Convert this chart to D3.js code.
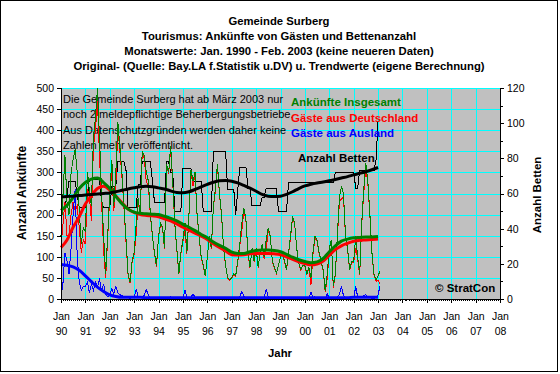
<!DOCTYPE html>
<html>
<head>
<meta charset="utf-8">
<script src="https://cdn.jsdelivr.net/npm/d3@7"></script>
<style>
  body { margin: 0; background: #fff; }
  text { font-family: Arial, "Liberation Sans", sans-serif; }
</style>
</head>
<body>
<svg id="chart" width="560" height="374"></svg>
<script>
// monthly values, Jan 1990 .. Feb 2003
var total = [
  150, 250, 340, 230, 200, 300, 330, 355, 300, 210, 130, 170,   // 1990
  160, 300, 260, 220, 380, 430, 500, 380, 250, 150,  60, 150,   // 1991
  250, 330, 220, 300, 420, 360, 300, 220, 140,  60,  40,  90,   // 1992
  110, 180, 240, 200, 350, 340, 300, 280, 200, 150, 110,  78,   // 1993
  150, 180, 170, 120, 320, 300, 362, 280, 180, 120,  60, 110,   // 1994
  140, 180, 110, 200, 306, 280, 300, 200, 150, 100,  80,  55,   // 1995
  100, 150, 120, 220, 260, 320, 250, 200, 120,  80,  50,  46,   // 1996
   50,  60,  55,  90, 130, 180, 215, 190, 110,  75, 120,  90,   // 1997
  120,  75, 110, 130, 100, 140, 168, 150,  90,  75,  62,  80,   // 1998
  100, 110,  90,  70, 110, 150, 196, 180, 120,  85,  70,  80,   // 1999
   80,  60,  75,  50, 110, 150, 140, 110,  90,  70,  18,  60,   // 2000
  120, 140,  30,  60, 150, 240, 267, 250, 150, 120,  70,  90,   // 2001
   90, 150, 100,  60, 180, 260, 322, 280, 200, 110,  60,  45,   // 2002
   55,  67                                                      // 2003
];
var german = [
  125, 180, 230, 150, 150, 200, 230, 210, 220, 170, 110, 140,
  130, 260, 245, 185, 360, 400, 470, 335, 230, 115,  50, 145,
  242, 305, 208, 270, 405, 350, 292, 215, 135,  57,  38,  87,
  107, 156, 235, 197, 345, 332, 278, 270, 197, 148, 108,  76,
  148, 178, 168, 118, 317, 296, 357, 276, 177, 118,  59, 108,
  137, 160, 107, 197, 301, 268, 296, 197, 148,  98,  79,  54,
   99, 148, 119, 218, 257, 316, 247, 198, 119,  79,  49,  45,
   49,  59,  54,  88, 125, 162, 209, 187, 109,  74, 119,  89,
  119,  74, 109, 128,  96, 116, 162, 148,  89,  74,  61,  79,
   99, 109,  89,  69, 108, 147, 193, 178, 119,  84,  69,  79,
   78,  58,  73,  34, 106, 145, 137, 107,  88,  68,  17,  48,
  118, 138,  27,  57, 145, 230, 237, 242, 147, 118,  68,  87,
   87, 120,  95,  57, 175, 252, 312, 274, 197, 108,  58,  42,
   45,  35
];
var foreign = [
    5,  40, 110,  90,  60, 120, 200, 260, 100,  40,  20,  30,
   30,  40,  15,  35,  20,  40,  30,  45,  20,  35,  10,   5,
    8,  25,  12,  30,  15,  10,   8,   5,   5,   3,   2,   3,
    3,  24,   5,   3,   5,   8,  22,  10,   3,   2,   2,   2,
    2,   2,   2,   2,   3,   4,   5,   4,   3,   2,   1,   2,
    3,  20,   3,   3,   5,  12,   4,   3,   2,   2,   1,   1,
    1,   2,   1,   2,   3,   4,   3,   2,   1,   1,   1,   1,
    1,   1,   1,   2,   5,  18,   6,   3,   1,   1,   1,   1,
    1,   1,   1,   2,   4,  24,   6,   2,   1,   1,   1,   1,
    1,   1,   1,   1,   2,   3,   3,   2,   1,   1,   1,   1,
    2,   2,   2,  16,   4,   5,   3,   3,   2,   2,   1,  12,
    2,   2,   3,   3,   5,  10,  30,   8,   3,   2,   2,   3,
    3,  30,   5,   3,   5,   8,  10,   6,   3,   2,   2,   3,
   10,  32
];
// beds, Jan 1990 .. Jan 2003
var beds = [
  52, 52, 52, 59, 67, 67, 67, 67, 59, 52, 52, 52,
  52, 58, 68, 68, 68, 68, 68, 68, 55, 52, 52, 52,
  52, 64, 64, 64, 78, 78, 78, 78, 73, 52, 52, 52,
  52, 52, 65, 65, 78, 78, 78, 78, 78, 67, 55, 55,
  55, 55, 55, 55, 78, 78, 72, 72, 50, 50, 50, 50,
  74, 74, 74, 74, 74, 67, 67, 67, 67, 67, 50, 50,
  50, 50, 50, 84, 84, 84, 84, 84, 84, 84, 62, 62,
  62, 62, 48, 62, 75, 75, 75, 75, 63, 63, 53, 53,
  53, 53, 53, 58, 58, 63, 63, 63, 63, 63, 63, 50,
  50, 50, 50, 50, 66, 66, 66, 66, 66, 66, 66, 66,
  66, 66, 66, 66, 66, 66, 66, 66, 66, 66, 66, 66,
  66, 66, 66, 72, 72, 72, 72, 72, 72, 72, 72, 72,
  72, 63, 63, 73, 73, 73, 73, 73, 73, 73, 73, 79,
  101
];

// trend values, every third month from Jan 1990
var totalTrend = [210, 222, 240, 262, 276, 284, 287, 276, 262, 243, 226, 213, 206, 203, 202, 201,
  200, 196, 191, 185, 177, 170, 162, 153, 145, 135, 127, 120, 111, 108, 108, 112, 115, 116, 116,
  115, 112, 106, 99, 93, 89, 86, 88, 96, 112, 126, 137, 142, 145, 146, 147, 147, 148];
var germanTrend = [122, 140, 170, 195, 225, 245, 262, 267, 258, 244, 228, 213, 205, 200, 198, 197,
  195, 190, 185, 178, 170, 163, 156, 149, 141, 131, 122, 114, 105, 104, 105, 107, 108, 108, 108,
  107, 105, 100, 94, 88, 84, 81, 83, 90, 104, 117, 126, 132, 137, 139, 140, 141, 142];
var foreignTrend = [82, 80, 76, 68, 55, 41, 28, 18, 10, 6, 4, 4, 4, 4, 3, 3, 3, 3, 3, 3, 3, 3, 3,
  3, 3, 3, 3, 3, 3, 3, 3, 3, 3, 3, 3, 3, 3, 3, 3, 3, 3, 3, 3, 3, 3, 3, 3, 3, 4, 4, 4, 4, 4];
var bedsTrend = [58.1, 58.3, 58.5, 58.8, 59.1, 59.4, 59.7, 60.0, 60.3, 61.0, 61.8, 62.6, 63.3,
  63.9, 64.1, 63.8, 63.2, 62.6, 61.5, 60.6, 60.4, 61.0, 62.3, 63.8, 65.2, 66.4, 67.2, 67.4, 67.0,
  66.0, 64.6, 63.0, 61.3, 59.5, 58.5, 58.3, 58.5, 59.5, 61.0, 62.8, 64.3, 65.3, 66.0, 66.5, 67.2,
  68.0, 68.8, 69.6, 70.6, 71.5, 72.4, 73.5, 74.8];

var yearLabels = ["90", "91", "92", "93", "94", "95", "96", "97", "98", "99",
  "00", "01", "02", "03", "04", "05", "06", "07", "08"];
var titleLines = ["Gemeinde Surberg",
  "Tourismus: Ankünfte von Gästen und Bettenanzahl",
  "Monatswerte: Jan. 1990 - Feb. 2003 (keine neueren Daten)",
  "Original- (Quelle: Bay.LA f.Statistik u.DV) u. Trendwerte (eigene Berechnung)"];
var noteLines = ["Die Gemeinde Surberg hat ab März 2003 nur",
  "noch 2 meldepflichtige Beherbergungsbetriebe.",
  "Aus Datenschutzgründen werden daher keine",
  "Zahlen mehr veröffentlicht."];
var legendItems = [
  {name: "Ankünfte Insgesamt", color: "#008000"},
  {name: "Gäste aus Deutschland", color: "#ff0000"},
  {name: "Gäste aus Ausland", color: "#0000ff"}
];

var plotLeft = 61, plotRight = 500, plotTop = 88, plotBottom = 299;

var svg = d3.select("#chart");

svg.append("rect")
    .attr("x", 0.5).attr("y", 0.5)
    .attr("width", 557).attr("height", 371)
    .attr("fill", "#fff")
    .attr("stroke", "#000");

var x = d3.scaleTime()
    .domain([new Date(1990, 0, 1), new Date(2008, 0, 1)])
    .range([plotLeft, plotRight]);
var y = d3.scaleLinear().domain([0, 500]).range([plotBottom, plotTop]);
var yBeds = d3.scaleLinear().domain([0, 120]).range([plotBottom, plotTop]);

function month(i) { return new Date(1990, i, 1); }

// plot area + grid
svg.append("rect")
    .attr("x", plotLeft).attr("y", plotTop)
    .attr("width", plotRight - plotLeft).attr("height", plotBottom - plotTop)
    .attr("fill", "#c0c0c0");

var years = d3.range(1990, 2009).map(function(yr) { return new Date(yr, 0, 1); });

svg.append("g").selectAll("line")
    .data(y.ticks(10))
    .join("line")
    .attr("x1", plotLeft).attr("x2", plotRight)
    .attr("y1", function(d) { return Math.round(y(d)) + 0.5; })
    .attr("y2", function(d) { return Math.round(y(d)) + 0.5; })
    .attr("stroke", "#00ffff")
    .attr("shape-rendering", "crispEdges");

svg.append("g").selectAll("line")
    .data(years)
    .join("line")
    .attr("x1", function(d) { return Math.round(x(d)) + 0.5; })
    .attr("x2", function(d) { return Math.round(x(d)) + 0.5; })
    .attr("y1", plotTop).attr("y2", plotBottom)
    .attr("stroke", "#00ffff")
    .attr("shape-rendering", "crispEdges");

// note text inside the plot
svg.append("g").selectAll("text")
    .data(noteLines)
    .join("text")
    .attr("x", 63)
    .attr("y", function(d, i) { return 102.5 + i * 15.5; })
    .attr("font-size", "11px")
    .attr("fill", "#000")
    .text(function(d) { return d; });

// data lines
var monthLine = d3.line()
    .x(function(d, i) { return x(month(i)); })
    .y(function(d) { return y(d); });
var bedsLine = d3.line()
    .x(function(d, i) { return x(month(i)); })
    .y(function(d) { return yBeds(d); });
var trendLine = d3.line()
    .curve(d3.curveMonotoneX)
    .x(function(d, i) { return x(month(i * 3)); })
    .y(function(d) { return y(d); });
var bedsTrendLine = d3.line()
    .curve(d3.curveMonotoneX)
    .x(function(d, i) { return x(month(i * 3)); })
    .y(function(d) { return yBeds(d); });

function thin(data, gen, color) {
    svg.append("path").datum(data).attr("d", gen)
        .attr("fill", "none").attr("stroke", color).attr("stroke-width", 1)
        .attr("shape-rendering", "crispEdges");
}
function thick(data, gen, color) {
    svg.append("path").datum(data).attr("d", gen)
        .attr("fill", "none").attr("stroke", color).attr("stroke-width", 3);
}

thin(beds, bedsLine, "#000");
thin(german, monthLine, "#ff0000");
thin(total, monthLine, "#008000");
thin(foreign, monthLine, "#0000ff");

thick(germanTrend, trendLine, "#ff0000");
thick(totalTrend, trendLine, "#008000");
thick(foreignTrend, trendLine, "#0000ff");
thick(bedsTrend, bedsTrendLine, "#000");

// legend labels
svg.append("g").selectAll("text")
    .data(legendItems)
    .join("text")
    .attr("x", 291)
    .attr("y", function(d, i) { return 106 + i * 15.5; })
    .attr("font-size", "11.5px")
    .attr("font-weight", "bold")
    .attr("fill", function(d) { return d.color; })
    .text(function(d) { return d.name; });

svg.append("text")
    .attr("x", 298).attr("y", 161.5)
    .attr("font-size", "11.5px").attr("font-weight", "bold")
    .text("Anzahl Betten");

svg.append("text")
    .attr("x", 435).attr("y", 291.5)
    .attr("font-size", "11.5px").attr("font-weight", "bold")
    .text("© StratCon");

// axes
svg.append("g")
    .attr("transform", "translate(" + plotLeft + ",0)")
    .call(d3.axisLeft(y).tickValues(d3.range(0, 501, 50)).tickSize(4).tickPadding(3));

svg.append("g")
    .attr("transform", "translate(" + plotRight + ",0)")
    .call(d3.axisRight(yBeds).tickValues(d3.range(0, 121, 20)).tickSize(4).tickPadding(3));
svg.append("g")
    .attr("transform", "translate(" + plotRight + ",0)")
    .call(d3.axisRight(yBeds).tickValues(d3.range(10, 120, 20)).tickSize(3).tickFormat(""))
    .select(".domain").remove();

svg.append("g")
    .attr("transform", "translate(0," + plotBottom + ")")
    .call(d3.axisBottom(x).ticks(d3.timeMonth.every(1)).tickSize(2).tickFormat(""))
    .select(".domain").remove();

var axisBottom = svg.append("g")
    .attr("transform", "translate(0," + plotBottom + ")")
    .call(d3.axisBottom(x).tickValues(years).tickSize(4).tickFormat(""));

axisBottom.selectAll(".tick").append("text")
    .attr("fill", "#000").attr("y", 21).text("Jan");
axisBottom.selectAll(".tick").append("text")
    .attr("fill", "#000").attr("y", 36)
    .text(function(d, i) { return yearLabels[i]; });

svg.selectAll(".domain, .tick line").attr("shape-rendering", "crispEdges");
svg.selectAll(".tick text")
    .attr("font-size", "10.5px")
    .attr("font-family", "Arial, 'Liberation Sans', sans-serif");
axisBottom.selectAll(".tick text").attr("text-anchor", "middle");

// titles
svg.append("g").selectAll("text")
    .data(titleLines)
    .join("text")
    .attr("x", 279)
    .attr("y", function(d, i) { return 24.5 + i * 15.3; })
    .attr("text-anchor", "middle")
    .attr("font-size", "11.3px")
    .attr("font-weight", "bold")
    .text(function(d) { return d; });

svg.append("text")
    .attr("x", 280).attr("y", 357)
    .attr("text-anchor", "middle")
    .attr("font-size", "11.3px").attr("font-weight", "bold")
    .text("Jahr");

svg.append("text")
    .attr("transform", "translate(26,193) rotate(-90)")
    .attr("text-anchor", "middle")
    .attr("font-size", "12px").attr("font-weight", "bold")
    .text("Anzahl Ankünfte");

svg.append("text")
    .attr("transform", "translate(541,195) rotate(-90)")
    .attr("text-anchor", "middle")
    .attr("font-size", "11.5px").attr("font-weight", "bold")
    .text("Anzahl Betten");
</script>
</body>
</html>
